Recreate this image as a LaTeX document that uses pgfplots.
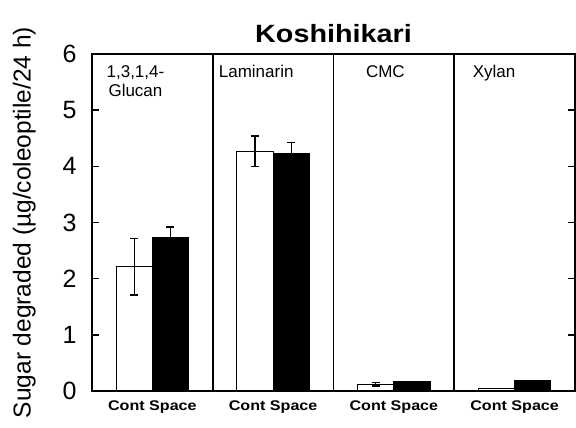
\documentclass[border=0pt]{standalone}
\usepackage{pgfplots}
\pgfplotsset{compat=1.18}
\usepackage{fontspec}
\setmainfont{Liberation Sans}
\newfontfamily\widefont[FakeStretch=1.15]{Liberation Sans}
\begin{document}
\begin{tikzpicture}
\path[use as bounding box] (-92pt,-37pt) rectangle (484pt,391pt);
\begin{axis}[
  at={(0,0)}, anchor=south west,
  scale only axis, width=483pt, height=337pt,
  xmin=0, xmax=4, ymin=0, ymax=6,
  ytick={0,1,2,3,4,5,6},
  ytick pos=both,
  major tick length=7pt,
  tick style={line width=1.4pt, black},
  yticklabel style={font=\fontsize{25}{25}\selectfont, xshift=-12pt},
  /pgf/number format/assume math mode=true,
  xtick={0.5,1.5,2.5,3.5},
  xticklabels={Cont Space,Cont Space,Cont Space,Cont Space},
  xticklabel style={font=\widefont\fontsize{14}{14}\selectfont\bfseries, yshift=-6pt},
  x tick style={draw=none},
  axis line style={line width=1.8pt},
  ylabel={Sugar degraded (µg/coleoptile/24 h)},
  ylabel style={font=\fontsize{24.5}{24.5}\selectfont, yshift=20pt},
  title={\textbf{Koshihikari}},
  title style={font=\widefont\fontsize{25}{25}\selectfont, yshift=2pt},
  clip=false,
]
\addplot[ybar, bar width=0.3, fill=white, draw=black, line width=1.1pt,
  error bars/.cd, y dir=both, y explicit,
  error bar style={line width=1.2pt}, error mark options={rotate=90, mark size=4pt, line width=1.2pt}]
  coordinates {
  (0.35,2.21) +- (0,0.50)
  (1.35,4.27) +- (0,0.27)
  (2.35,0.12) +- (0,0.03)
  (3.35,0.04) +- (0,0)
  };
\addplot[ybar, bar width=0.3, fill=black, draw=black, line width=1.1pt,
  error bars/.cd, y dir=plus, y explicit,
  error bar style={line width=1.2pt}, error mark options={rotate=90, mark size=4pt, line width=1.2pt}]
  coordinates {
  (0.65,2.73) +- (0,0.19)
  (1.65,4.22) +- (0,0.20)
  (2.65,0.16) +- (0,0)
  (3.65,0.18) +- (0,0)
  };
\draw[line width=1.8pt] (axis cs:1,0) -- (axis cs:1,6);
\draw[line width=1.8pt] (axis cs:2,0) -- (axis cs:2,6);
\draw[line width=1.8pt] (axis cs:3,0) -- (axis cs:3,6);
\node[font=\fontsize{17}{19}\selectfont, align=center, anchor=north] at (axis cs:0.36,5.86) {1,3,1,4-\\Glucan};
\node[font=\fontsize{17}{19}\selectfont, anchor=north] at (axis cs:1.36,5.86) {Laminarin};
\node[font=\fontsize{17}{19}\selectfont, anchor=north] at (axis cs:2.43,5.86) {CMC};
\node[font=\fontsize{17}{19}\selectfont, anchor=north] at (axis cs:3.33,5.86) {Xylan};
\end{axis}
\end{tikzpicture}
\end{document}
